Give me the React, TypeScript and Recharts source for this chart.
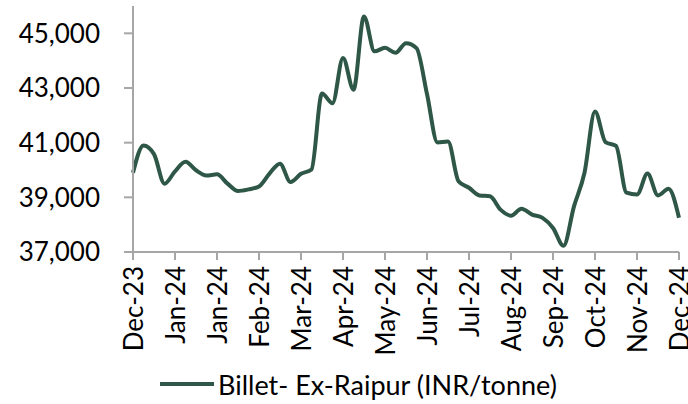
import React from "react";
import { LineChart, Line, XAxis, YAxis, Legend } from "recharts";

// weekly billet prices, Dec-23 .. Dec-24
const prices = [
  39900, 40900, 40580, 39500, 39950, 40300, 39990, 39800, 39840, 39500,
  39230, 39290, 39400, 39870, 40230, 39560, 39860, 40020, 42800, 42440,
  44100, 42940, 45620, 44340, 44470, 44290, 44640, 44460, 42780, 41010,
  41040, 39590, 39350, 39070, 39040, 38550, 38330, 38580, 38370, 38250,
  37880, 37230, 38670, 39900, 42140, 41020, 40880, 39170, 39100, 39870,
  39070, 39310, 38250,
];

// one label every 4 weeks
const tickLabels = [
  "Dec-23", "Jan-24", "Jan-24", "Feb-24", "Mar-24", "Apr-24", "May-24",
  "Jun-24", "Jul-24", "Aug-24", "Sep-24", "Oct-24", "Nov-24", "Dec-24",
];

const yTicks = [37000, 39000, 41000, 43000, 45000];

const seriesName = "Billet- Ex-Raipur (INR/tonne)";
const LINE_COLOR = "#2E5748";
const AXIS_COLOR = "#A6A6A6";
const FONT = "Lato, 'Open Sans', sans-serif";

const XTick = ({ x, y, payload }: any) => (
  <text
    transform={`translate(${x},${y}) rotate(-90)`}
    textAnchor="end"
    dominantBaseline="central"
    fontSize={26}
    fill="#000"
  >
    {tickLabels[Math.round(payload.value / 4)]}
  </text>
);

const LegendBox = () => (
  <div style={{ display: "flex", alignItems: "center", paddingLeft: 160, height: 40 }}>
    <svg width={54} height={10}>
      <line x1={0} y1={5} x2={54} y2={5} stroke={LINE_COLOR} strokeWidth={4} />
    </svg>
    <span style={{ fontSize: 27, color: "#000", marginLeft: 4 }}>{seriesName}</span>
  </div>
);

export default function App() {
  const data = prices.map((p, i) => ({ week: i, price: p }));
  const tickWeeks = tickLabels.map((_, k) => k * 4);

  return (
    <div style={{ position: "absolute", left: 0, top: 0, fontFamily: FONT, background: "#fff" }}>
      <LineChart width={688} height={404} data={data} margin={{ top: 6, right: 9, left: 0, bottom: 0 }}>
        <XAxis
          dataKey="week"
          type="number"
          domain={[0, 52]}
          ticks={tickWeeks}
          interval={0}
          tick={<XTick />}
          tickSize={8}
          tickMargin={6}
          height={112}
          axisLine={{ stroke: AXIS_COLOR, strokeWidth: 2 }}
          tickLine={{ stroke: AXIS_COLOR, strokeWidth: 2 }}
        />
        <YAxis
          domain={[37000, 46000]}
          ticks={yTicks}
          width={133}
          tickSize={9}
          tickMargin={24}
          tick={{ fontSize: 26, fill: "#000" }}
          tickFormatter={(v: number) => v.toLocaleString("en-US")}
          axisLine={{ stroke: AXIS_COLOR, strokeWidth: 2 }}
          tickLine={{ stroke: AXIS_COLOR, strokeWidth: 2 }}
        />
        <Legend verticalAlign="bottom" align="left" height={40} content={<LegendBox />} />
        <Line
          type="monotone"
          dataKey="price"
          name={seriesName}
          stroke={LINE_COLOR}
          strokeWidth={4}
          dot={false}
          isAnimationActive={false}
        />
      </LineChart>
    </div>
  );
}
